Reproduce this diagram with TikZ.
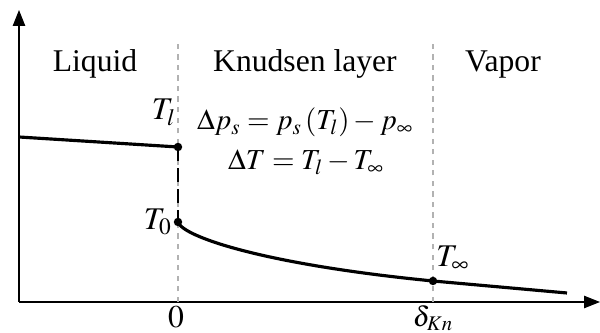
\documentclass[tikz,border=0pt]{standalone}
\usepackage{mathptmx}
\usepackage{fontspec}
\setmainfont{Liberation Serif}
\usetikzlibrary{arrows.meta, positioning, calc}

\begin{document}
\begin{tikzpicture}[
    x=0.02cm, y=-0.02cm,
    font=\fontsize{18}{21}\selectfont,
    axis/.style={draw=black, line width=0.6pt, -{Triangle[length=9pt, width=7pt]}},
    boundary/.style={draw=black!30, dashed, line width=0.6pt},
    profile/.style={draw=black, line width=1.8pt},
    jump/.style={draw=black, line width=1.6pt, dash pattern=on 8pt off 4pt},
    state/.style={circle, fill=black, inner sep=0pt, minimum size=4.8pt},
    region/.style={anchor=base, inner sep=0pt},
    eqn/.style={anchor=base, inner sep=0pt, font=\fontsize{16.5}{20}\selectfont}
]

% ---- Picture frame, in pixels of the layout ----
\useasboundingbox (0,0) rectangle (600,333);

% ---- Axes ----
\coordinate (O)    at (19,302);
\coordinate (ytip) at (19,10);
\coordinate (xtip) at (600,302);
\draw[axis] (O) -- (ytip);
\draw[axis] (O) -- (xtip);

% ---- Edges of the Knudsen layer ----
\coordinate (wall)     at (178,302);
\coordinate (wallTop)  at (178,42);
\coordinate (kn)       at (433,302);
\coordinate (knTop)    at (433,42);
\draw[boundary] (wall) -- (wallTop);
\draw[boundary] (kn) -- (knTop);

% ---- Temperature states ----
\node[state] (Tl)   at (178,147) {};
\node[state] (T0)   at (178,222) {};
\node[state] (Tinf) at (433,281) {};
\coordinate (liqEnd) at (19,137);
\coordinate (vapEnd) at (567,293);

% ---- Temperature profile ----
\draw[profile] (liqEnd) -- (Tl.center);
\draw[jump] (Tl.center) -- (T0.center);
\draw[profile] (T0.center) .. controls (182,236) and (260,264) .. (Tinf.center)
               -- (vapEnd);

% ---- Region names ----
\node[region] (liq) at (95,72)  {Liquid};
\node[region] (knl) at (305,72) {Knudsen layer};
\node[region] (vap) at (503,72) {Vapor};

% ---- Jumps across the layer ----
\node[eqn] (dps) at (305,130) {$\Delta p_s = p_s\left(T_l\right) - p_\infty$};
\node[eqn] (dT)  at (306,170) {$\Delta T = T_l - T_\infty$};

% ---- State labels ----
\node[anchor=base east, inner sep=0pt] (lTl)   at (176,120) {$T_l$};
\node[anchor=base east, inner sep=0pt] (lT0)   at (172,230) {$T_0$};
\node[anchor=base west, inner sep=0pt] (lTinf) at (436,267) {$T_\infty$};

% ---- Axis marks ----
\node[region] (zero) at (176,328) {$0$};
\node[anchor=north, inner sep=0pt, font=\fontsize{16}{18}\selectfont]
     (dkn) at (433,305) {$\delta_{Kn}$};

\end{tikzpicture}
\end{document}
